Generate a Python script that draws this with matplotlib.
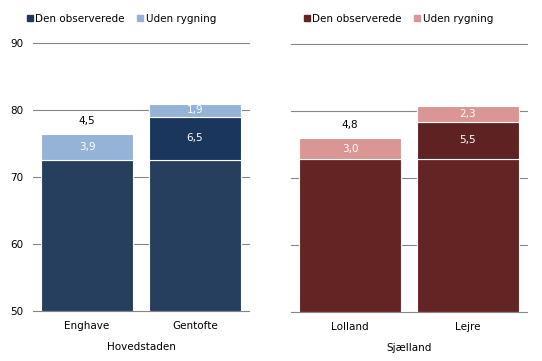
import matplotlib
matplotlib.use("Agg")
import matplotlib.pyplot as plt
from matplotlib.patches import Patch

# Data
left_cats = ["Enghave", "Gentofte"]
left_base = [72.5, 72.5]          # common observed base
left_obs_extra = [0.0, 6.5]       # additional observed life expectancy
left_smoke = [3.9, 1.9]           # gain without smoking
left_gap = "4,5"
left_group = "Hovedstaden"

right_cats = ["Lolland", "Lejre"]
right_base = [72.9, 72.9]
right_obs_extra = [0.0, 5.5]
right_smoke = [3.0, 2.3]
right_gap = "4,8"
right_group = "Sjælland"

series_names = ["Den observerede", "Uden rygning"]
yticks = [50, 60, 70, 80, 90]

W, H = 542, 361
fig = plt.figure(figsize=(W / 100, H / 100), dpi=100)
plt.rcParams['font.family'] = ['DejaVu Sans']
FS = 7.5

def fmt(v):
    return f"{v:.1f}".replace(".", ",")

def panel(rect, cats, base, extra, smoke, gap, group, c_base, c_extra, c_light, show_y, width):
    ax = fig.add_axes(rect)
    x = list(range(len(cats)))
    ax.bar(x, [b - 50 for b in base], bottom=50, width=width, color=c_base,
           edgecolor="white", linewidth=0.8, zorder=3)
    tops = []
    for i in x:
        b = base[i]
        if extra[i] > 0:
            ax.bar(i, extra[i], bottom=b, width=width, color=c_extra,
                   edgecolor="white", linewidth=0.8, zorder=3)
            ax.text(i, b + extra[i] / 2, fmt(extra[i]), ha="center", va="center",
                    color="white", fontsize=FS, zorder=4)
            b += extra[i]
        ax.bar(i, smoke[i], bottom=b, width=width, color=c_light,
               edgecolor="white", linewidth=0.8, zorder=3)
        ax.text(i, b + smoke[i] / 2, fmt(smoke[i]), ha="center", va="center",
                color="white", fontsize=FS, zorder=4)
        tops.append(b + smoke[i])
    ax.text(0, tops[0] + 2.0, gap, ha="center", va="center", color="black", fontsize=FS, zorder=4)
    ax.set_ylim(50, 90)
    ax.set_xlim(-0.5, len(cats) - 0.5)
    ax.set_yticks(yticks)
    ax.yaxis.grid(True, color="#868686", linewidth=0.8, zorder=0)
    for gl in ax.get_ygridlines():
        gl.set_clip_on(False)
    ax.set_axisbelow(True)
    for s in ax.spines.values():
        s.set_visible(False)
    ax.tick_params(axis="both", length=0, labelsize=FS)
    ax.tick_params(axis="y", pad=7)
    ax.tick_params(axis="x", pad=7)
    ax.set_xticks(x)
    ax.set_xticklabels(cats)
    if not show_y:
        ax.set_yticklabels([])
    ax.set_xlabel(group, fontsize=FS, labelpad=8)
    return ax

axL = panel([33 / W, (H - 311) / H, 216 / W, 268 / H], left_cats, left_base, left_obs_extra,
            left_smoke, left_gap, left_group, "#263F5E", "#1A365C", "#95B3D7", True, 0.855)
axR = panel([291 / W, (H - 312) / H, 236 / W, 268 / H], right_cats, right_base, right_obs_extra,
            right_smoke, right_gap, right_group, "#632523", "#5F2222", "#D99694", False, 0.865)

def legend(x0, c1, c2):
    handles = [Patch(color=c1, label=series_names[0]), Patch(color=c2, label=series_names[1])]
    fig.legend(handles=handles, loc="center left", bbox_to_anchor=(x0 / W, 1 - 19 / H),
               ncol=2, frameon=False, fontsize=FS, handlelength=0.55, handleheight=0.55,
               handletextpad=0.25, columnspacing=1.2, borderaxespad=0, borderpad=0)

legend(27, "#1F3864", "#95B3D7")
legend(304, "#632523", "#D99694")

fig.savefig("out.png", dpi=100)
